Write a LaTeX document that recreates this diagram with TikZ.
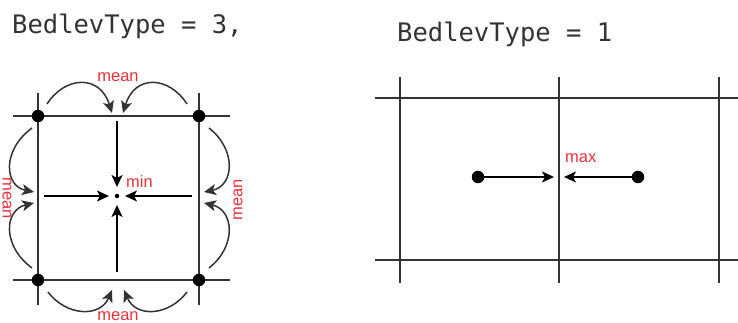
\documentclass[tikz,border=0pt]{standalone}
\usepackage{fontspec}
\setmainfont{Liberation Sans}
\newfontfamily\codefont{DejaVu Sans Mono}
\usetikzlibrary{arrows.meta}
\definecolor{gridgray}{HTML}{333333}
\definecolor{labred}{HTML}{E8303A}
\tikzset{
  gridline/.style={draw=gridgray, line width=1.8pt},
  dotnode/.style={circle, fill=black, inner sep=0pt, minimum size=12.5pt},
  smalldot/.style={circle, fill=black, inner sep=0pt, minimum size=4.5pt},
  arr/.style={draw=black, line width=1.5pt, -{Stealth[length=12pt,width=11pt,inset=3pt]}},
  curvarr/.style={draw=gridgray, line width=1.5pt, -{Stealth[length=12pt,width=11pt,inset=3pt]}},
  lab/.style={text=labred, font=\fontsize{16.5}{16.5}\selectfont, inner sep=0pt},
  title/.style={font=\codefont\fontsize{25.5}{26}\selectfont, text=black!80, inner sep=0pt, anchor=base west}
}
\begin{document}
\begin{tikzpicture}[x=1pt, y=-1pt]
\useasboundingbox (0,0) rectangle (738,323);
% titles
\node[title] (t1) at (12,33.3) {BedlevType = 3,};
\node[title] (t2) at (397,41.7) {BedlevType = 1};
% ---------- left diagram ----------
\draw[gridline] (13,116) -- (230,116);
\draw[gridline] (13,280) -- (230,280);
\draw[gridline] (38,93) -- (38,305);
\draw[gridline] (199,93) -- (199,305);
\node[dotnode] (tl) at (38,116) {};
\node[dotnode] (tr) at (199,116) {};
\node[dotnode] (bl) at (38,280) {};
\node[dotnode] (br) at (199,280) {};
\node[smalldot] (c) at (117,196) {};
% straight arrows into the centre
\coordinate (ns) at (117,121);
\coordinate (ss) at (117,272);
\coordinate (ws) at (44,196);
\coordinate (es) at (192,196);
\draw[arr] (ns) -- ([yshift=9pt]c.center);
\draw[arr] (ss) -- ([yshift=-9pt]c.center);
\draw[arr] (ws) -- ([xshift=-8pt]c.center);
\draw[arr] (es) -- ([xshift=8pt]c.center);
\node[lab, anchor=west] (min) at (126,181.5) {min};
% curved arrows, top
\coordinate (ta) at (47,104);
\coordinate (tb) at (112,113);
\coordinate (tc) at (187,104);
\coordinate (td) at (123,113);
\draw[curvarr] (ta) .. controls (65,76) and (100,74) .. (tb);
\draw[curvarr] (tc) .. controls (169,76) and (135,74) .. (td);
\node[lab] (mtop) at (118,77) {mean};
% curved arrows, bottom
\coordinate (ba) at (48,292);
\coordinate (bb) at (112,290);
\coordinate (bc) at (187,292);
\coordinate (bd) at (124,290);
\draw[curvarr] (ba) .. controls (66,316) and (100,318) .. (bb);
\draw[curvarr] (bc) .. controls (169,316) and (136,318) .. (bd);
\node[lab] (mbot) at (118,316) {mean};
% curved arrows, left
\coordinate (la) at (32,128);
\coordinate (lb) at (34,192);
\coordinate (lc) at (32,268);
\coordinate (ld) at (34,203);
\draw[curvarr] (la) .. controls (2,150) and (4,186) .. (lb);
\draw[curvarr] (lc) .. controls (2,246) and (4,210) .. (ld);
\node[lab, rotate=-90] (mleft) at (7,198) {mean};
% curved arrows, right
\coordinate (ra) at (209,128);
\coordinate (rb) at (204,192);
\coordinate (rc) at (209,268);
\coordinate (rd) at (204,203);
\draw[curvarr] (ra) .. controls (237,150) and (234,186) .. (rb);
\draw[curvarr] (rc) .. controls (237,246) and (234,210) .. (rd);
\node[lab, rotate=90] (mright) at (238,200) {mean};
% ---------- right diagram ----------
\draw[gridline] (375,98) -- (738,98);
\draw[gridline] (375,260) -- (738,260);
\draw[gridline] (400,77) -- (400,283);
\draw[gridline] (559,77) -- (559,283);
\draw[gridline] (719,77) -- (719,283);
\node[dotnode] (pl) at (478,177) {};
\node[dotnode] (pr) at (638,177) {};
\coordinate (fl) at (554,177);
\coordinate (fr) at (564,177);
\draw[arr] (pl) -- (fl);
\draw[arr] (pr) -- (fr);
\node[lab, anchor=west] (max) at (565,158) {max};
\end{tikzpicture}
\end{document}
